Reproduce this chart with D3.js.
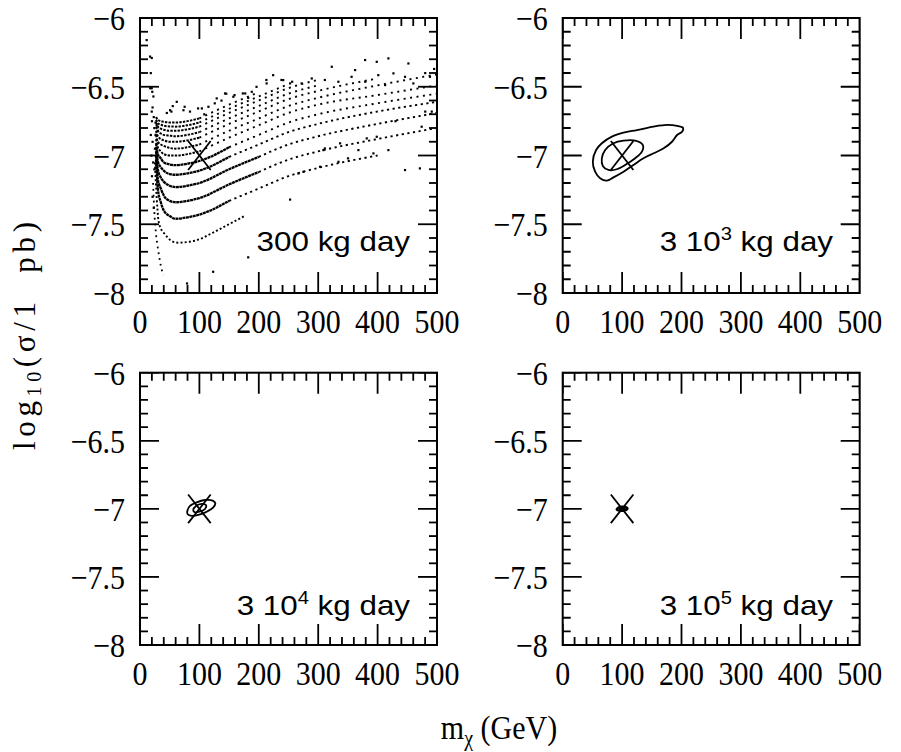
<!DOCTYPE html>
<html>
<head>
<meta charset="utf-8">
<script src="https://cdn.jsdelivr.net/npm/d3@7"></script>
</head>
<body style="margin:0">
<svg id="chart" width="901" height="752"></svg>
<script>
// axis ticks
var xMajor = [0, 100, 200, 300, 400, 500];
var yMajor = [-6, -6.5, -7, -7.5, -8];
var xMinor = [20, 40, 60, 80, 120, 140, 160, 180, 220, 240, 260, 280, 320, 340, 360, 380, 420, 440, 460, 480];
var yMinor = [-7.9, -7.8, -7.7, -7.6, -7.4, -7.3, -7.2, -7.1, -6.9, -6.8, -6.7, -6.6, -6.4, -6.3, -6.2, -6.1];

// exposure labels, [text, superscript, rest]
var exposureLabels = [["300 kg day", "", ""], ["3 10", "3", " kg day"], ["3 10", "4", " kg day"], ["3 10", "5", " kg day"]];

// 300 kg day panel: family of scan curves, log10(sigma) at these masses
var curveMass = [27, 30, 35, 40, 50, 60, 80, 100, 150, 200, 250, 300, 400, 500];
var curve2  = [-7.03, -7.24, -7.34, -7.40, -7.44, -7.46, -7.45, -7.43, -7.33, -7.24, -7.15, -7.09, -7.00];
var curve3  = [-7.00, -7.17, -7.24, -7.29, -7.33, -7.34, -7.33, -7.31, -7.21, -7.12, -7.03, -6.97, -6.88, -6.80];
var curve4  = [-6.97, -7.10, -7.16, -7.19, -7.22, -7.23, -7.22, -7.20, -7.10, -7.01, -6.92, -6.86, -6.77, -6.69];
var curve5  = [-6.94, -7.04, -7.085, -7.11, -7.135, -7.14, -7.13, -7.11, -7.01, -6.92, -6.83, -6.77, -6.68, -6.61];
var curve6  = [-6.91, -6.99, -7.02, -7.05, -7.065, -7.07, -7.06, -7.04, -6.94, -6.85, -6.76, -6.70, -6.62, -6.55];
var curve7  = [-6.88, -6.94, -6.97, -6.99, -7.00, -7.00, -6.99, -6.97, -6.87, -6.78, -6.69, -6.63, -6.56, -6.49];
var curve8  = [-6.85, -6.90, -6.92, -6.93, -6.945, -6.95, -6.94, -6.92, -6.82, -6.73, -6.64, -6.58, -6.49, -6.41];
var curve9  = [-6.82, -6.86, -6.88, -6.89, -6.90, -6.90, -6.89, -6.87, -6.77, -6.68, -6.59, -6.53, -6.44];
var curve10 = [-6.79, -6.82, -6.84, -6.85, -6.856, -6.86, -6.85, -6.83, -6.73, -6.64, -6.55, -6.49];
var curve11 = [-6.76, -6.79, -6.805, -6.813, -6.82, -6.82, -6.81, -6.79, -6.69, -6.60, -6.51, -6.45];
var curve12 = [-6.74, -6.765, -6.776, -6.783, -6.789, -6.79, -6.78, -6.76, -6.66, -6.57, -6.48];
var curve13 = [-6.72, -6.74, -6.75, -6.755, -6.76, -6.76, -6.75, -6.73, -6.63, -6.54];

// lowest curve and the steep branch, own masses
var curve1Mass = [25, 28, 31, 35, 41.5, 52.7, 64, 92, 126, 154, 176];
var curve1Log  = [-7.05, -7.30, -7.47, -7.53, -7.57, -7.62, -7.634, -7.62, -7.554, -7.49, -7.44];
var steepMass = [22, 24, 27, 31, 35, 39];
var steepLog  = [-7.20, -7.40, -7.57, -7.70, -7.80, -7.87];

// loose scan points
var scatterPts = [
  [16.8,-6.28],[11,-6.16],[18,-6.40],[19.6,-6.29],[19.6,-6.51],[20.5,-6.536],[22.4,-6.57],[19.6,-6.68],[17,-6.51],[21,-6.65],
  [20,-6.75],[23,-6.72],[18,-6.85],[21,-6.90],[19,-7.00],[22,-7.05],[20,-7.15],[24,-6.80],[26,-6.85],[25,-6.95],[24,-7.10],
  [28,-6.78],[30,-6.82],[26,-6.76],[21,-7.30],[23,-7.38],
  [45,-6.69],[50.5,-6.67],[52.7,-6.68],[61.7,-6.609],[55,-6.64],[73,-6.67],[75,-6.645],[84,-6.68],[97.6,-6.657],[104,-6.657],
  [115,-6.645],[108,-6.70],[125.7,-6.62],[129,-6.584],[137,-6.60],[143,-6.548],[145,-6.55],[157,-6.572],[159,-6.56],[173,-6.548],
  [177,-6.548],[182,-6.58],[188,-6.536],[196,-6.50],[213,-6.475],[212.6,-6.45],[224,-6.415],[238,-6.45],[241,-6.451],[252.5,-6.475],
  [256,-6.463],[272,-6.475],[289,-6.439],[311,-6.45],[333.8,-6.463],[322.7,-6.354],[356,-6.427],[362,-6.378],[378.8,-6.305],[379,-6.463],
  [398.4,-6.318],[401,-6.415],[412.5,-6.487],[418,-6.293],[426.5,-6.402],[446,-6.427],[451.7,-6.33],[460,-6.475],[480,-6.40],[488,-6.427],
  [495,-6.37],
  [252.5,-7.32],[182,-7.74],[79,-7.93],[123,-7.845],[446,-7.105],[471,-7.093],[418,-6.96],[392.8,-6.984],[367.5,-6.96],[336.7,-6.911],
  [308.6,-6.96],[303,-7.081],[275,-7.118],[266.5,-7.13],[334,-7.045],[381.6,-6.875],[398.4,-6.863],[474,-6.79],[480,-6.68],[491,-6.68],
  [311,-6.948],[350,-7.02],[430,-6.75]
];

// input model (cross) and confidence contours
var crossMass = [81, 119];
var crossLog  = [-6.895, -7.105];
var outer2 = [[56.2,-6.96],[65.9,-6.911],[82.8,-6.863],[102.4,-6.834],[125,-6.815],[153,-6.79],[175.7,-6.778],[192.6,-6.785],[202.7,-6.80],[201,-6.827],[192.6,-6.851],[184,-6.90],[170,-6.948],[153,-6.984],[136,-7.02],[119,-7.069],[102.4,-7.118],[85.5,-7.159],[74.3,-7.183],[63,-7.166],[54.6,-7.118],[50.7,-7.045]];
var inner2 = [[65.9,-7.02],[71.5,-6.96],[85.5,-6.911],[102.4,-6.892],[122,-6.892],[135,-6.924],[133.4,-6.972],[122,-7.02],[105,-7.069],[91,-7.10],[77,-7.105],[67.5,-7.076]];
var outer3 = [[79.7,-7.016],[84.2,-6.979],[95.4,-6.952],[109.4,-6.935],[122.4,-6.94],[126.8,-6.959],[123.4,-6.989],[112.3,-7.021],[98.2,-7.045],[87,-7.052],[80.3,-7.04]];
var inner3 = [[89.7,-7.008],[94.3,-6.979],[103.8,-6.964],[111,-6.972],[109.4,-7.001],[99.8,-7.021],[91.4,-7.023]];
var outer4 = [[91,-7.005],[94,-6.99],[100,-6.985],[106,-6.988],[109,-6.995],[107,-7.008],[101,-7.014],[95,-7.013]];
var inner4 = [[96,-7.0],[100,-6.993],[104,-6.995],[104,-7.003],[100,-7.007],[96,-7.005]];

var serif = "'Liberation Serif', 'Times New Roman', serif";
var sans = "'Liberation Sans', Arial, sans-serif";
var W = 297;
var panels = [
  {left: 140,   top: 18,    h: 275,   lx: 410, ly: 251, contours: []},
  {left: 562.7, top: 18,    h: 275,   lx: 833, ly: 251, contours: [outer2, inner2]},
  {left: 140,   top: 372.7, h: 272.3, lx: 410, ly: 615, contours: [outer3, inner3]},
  {left: 562.7, top: 372.7, h: 272.3, lx: 833, ly: 615, contours: [outer4, inner4]}
];

var svg = d3.select("#chart");
svg.append("rect").attr("width", 901).attr("height", 752).attr("fill", "#fff");

panels.forEach(function(p, i) {
  // scales in page pixels
  var x = d3.scaleLinear().domain([0, 500]).range([p.left, p.left + W]);
  var y = d3.scaleLinear().domain([-8, -6]).range([p.top + p.h, p.top]);
  var x0 = p.left, x1 = p.left + W, y0 = p.top, y1 = p.top + p.h;

  svg.append("clipPath").attr("id", "clip" + i)
    .append("rect").attr("x", x0).attr("y", y0).attr("width", W).attr("height", p.h);
  var plot = svg.append("g").attr("clip-path", "url(#clip" + i + ")");

  //inward ticks on all four sides
  function addTick(ax, ay, bx, by) {
    plot.append("line").attr("x1", ax).attr("y1", ay).attr("x2", bx).attr("y2", by)
      .attr("stroke", "#000").attr("stroke-width", 1.8);
  }
  [[xMajor, 21], [xMinor, 8]].forEach(function(s) {
    s[0].forEach(function(v) {
      addTick(x(v), y1, x(v), y1 - s[1]);
      addTick(x(v), y0, x(v), y0 + s[1]);
    });
  });
  [[yMajor, 19], [yMinor, 8]].forEach(function(s) {
    s[0].forEach(function(v) {
      addTick(x0, y(v), x0 + s[1], y(v));
      addTick(x1, y(v), x1 - s[1], y(v));
    });
  });

  svg.append("rect").attr("x", x0).attr("y", y0).attr("width", W).attr("height", p.h)
    .attr("fill", "none").attr("stroke", "black").attr("stroke-width", 2);

  //tick labels
  svg.append("g").selectAll("text").data(xMajor).join("text")
    .attr("transform", function(d){ return "translate(" + x(d) + "," + (y1 + 40) + ") scale(1,1.15)"; })
    .attr("text-anchor", "middle").attr("font-family", serif).attr("font-size", 30)
    .text(function(d){ return d; });
  svg.append("g").selectAll("text").data(yMajor).join("text")
    .attr("transform", function(d){ return "translate(" + (x0 - 15) + "," + (y(d) + 12) + ") scale(1,1.15)"; })
    .attr("text-anchor", "end").attr("font-family", serif).attr("font-size", 30)
    .text(function(d){ return d3.format("")(d); });

  if (i == 0) {
    var line = d3.line().x(function(d){ return x(d[0]); }).y(function(d){ return y(d[1]); })
      .curve(d3.curveMonotoneX);
    var family = [curve2, curve3, curve4, curve5, curve6, curve7, curve8, curve9, curve10, curve11, curve12, curve13];
    //where each curve stops being dense
    var denseTo = [150, 200, 200, 150, 150, 100, 100, 100, 100, 100, 100, 100];
    family.forEach(function(vals, k) {
      var pts = vals.map(function(v, j){ return [curveMass[j], v]; });
      var near = pts.filter(function(d){ return d[0] <= denseTo[k]; });
      var far = pts.filter(function(d){ return d[0] >= denseTo[k]; });
      plot.append("path").attr("d", line(near)).attr("fill", "none").attr("stroke", "#000")
        .attr("stroke-width", k < 5 ? 2.3 : 2).attr("stroke-dasharray", k < 5 ? "3 0.5" : "2.4 1.2");
      plot.append("path").attr("d", line(far)).attr("fill", "none").attr("stroke", "#000")
        .attr("stroke-width", 1.9).attr("stroke-dasharray", k < 4 ? "2.2 3.5" : "2 4.5");
    });
    var c1 = curve1Mass.map(function(m, j){ return [m, curve1Log[j]]; });
    plot.append("path").attr("d", line(c1)).attr("fill", "none").attr("stroke", "#000")
      .attr("stroke-width", 1.9).attr("stroke-dasharray", "2 2.2");
    var st = steepMass.map(function(m, j){ return [m, steepLog[j]]; });
    plot.append("path").attr("d", line(st)).attr("fill", "none").attr("stroke", "#000")
      .attr("stroke-width", 1.8).attr("stroke-dasharray", "1.8 4");
    plot.append("g").selectAll("rect").data(scatterPts).join("rect")
      .attr("x", function(d){ return x(d[0]) - 1; }).attr("y", function(d){ return y(d[1]) - 1; })
      .attr("width", 2.2).attr("height", 2.2).attr("fill", "#000");
  }

  //contours
  var closed = d3.line().x(function(d){ return x(d[0]); }).y(function(d){ return y(d[1]); })
    .curve(d3.curveCatmullRomClosed);
  p.contours.forEach(function(c) {
    plot.append("path").attr("d", closed(c)).attr("fill", "none")
      .attr("stroke", "#000").attr("stroke-width", i == 3 ? 2.4 : 1.8);
  });

  //true model cross
  plot.append("line").attr("x1", x(crossMass[0])).attr("y1", y(crossLog[0]))
    .attr("x2", x(crossMass[1])).attr("y2", y(crossLog[1])).attr("stroke", "#000").attr("stroke-width", 1.8);
  plot.append("line").attr("x1", x(crossMass[0])).attr("y1", y(crossLog[1]))
    .attr("x2", x(crossMass[1])).attr("y2", y(crossLog[0])).attr("stroke", "#000").attr("stroke-width", 1.8);

  //exposure label
  var lab = exposureLabels[i];
  var t = svg.append("text")
    .attr("transform", "translate(" + p.lx + "," + p.ly + ") scale(1.12,1)")
    .attr("text-anchor", "end").attr("font-family", sans).attr("font-size", 28);
  t.append("tspan").text(lab[0]);
  if (lab[1]) {
    t.append("tspan").attr("font-size", 18).attr("dy", -11).text(lab[1]);
    t.append("tspan").attr("dy", 11).text(lab[2]);
  }
});

// axis titles
var yt = svg.append("text")
  .attr("transform", "translate(35,336) rotate(-90)")
  .attr("text-anchor", "middle").attr("font-family", serif).attr("font-size", 31)
  .attr("textLength", 228).attr("lengthAdjust", "spacing")
  .style("white-space", "pre");
yt.append("tspan").text("log");
yt.append("tspan").attr("font-size", 20).attr("dy", 6).text("10");
yt.append("tspan").attr("dy", -6).text("(σ/1  pb)");

var xt = svg.append("text")
  .attr("transform", "translate(499,739) scale(1,1.15)")
  .attr("text-anchor", "middle").attr("font-family", serif).attr("font-size", 30)
  .style("white-space", "pre");
xt.append("tspan").text("m");
xt.append("tspan").attr("font-size", 20).attr("dy", 6).text("χ");
xt.append("tspan").attr("dy", -6).text(" (GeV)");
</script>
</body>
</html>
